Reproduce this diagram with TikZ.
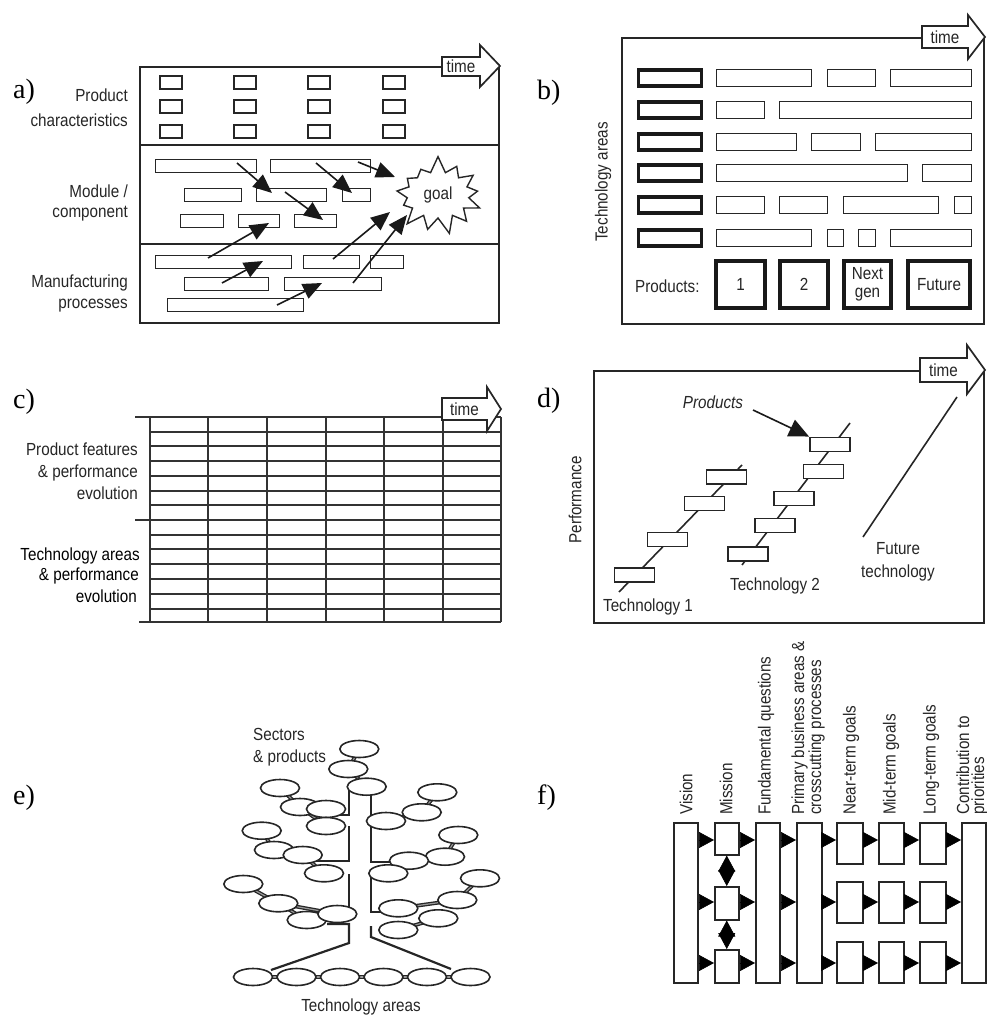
\documentclass[tikz,border=0pt]{standalone}
\usepackage{fontspec}
\setmainfont[FakeStretch=0.87]{Liberation Sans}
\newfontfamily\serifl{Liberation Serif}
\usetikzlibrary{arrows.meta,shapes.symbols,shapes.geometric}
\pgfdeclarelayer{bg}
\pgfsetlayers{bg,main}
\tikzset{
  lbl/.style={font=\fontsize{17.5}{20}\selectfont, text=black!85, inner sep=0pt},
  plab/.style={font=\serifl\fontsize{28}{30}\selectfont, inner sep=0pt, anchor=base west},
  frm/.style={draw=black!85, line width=2pt},
  bar/.style={draw=black!85, line width=1.9pt, fill=white},
  tbar/.style={draw=black!90, line width=3.4pt, fill=white},
  pbox/.style={draw=black!90, line width=3.6pt, fill=white, inner sep=0pt, align=center, font=\fontsize{17.5}{18}\selectfont, text=black!85},
  tarr/.style={draw=black!85, line width=1.7pt, fill=white, line join=miter},
  parr/.style={draw=black!90, line width=1.6pt, -{Triangle[length=19pt,width=16pt]}},
  gridl/.style={draw=black!80, line width=1.5pt},
  dbox/.style={draw=black!85, line width=1.9pt, fill=white, minimum width=40pt, minimum height=14pt, inner sep=0pt},
  ell/.style={ellipse, draw=black!85, line width=1.6pt, fill=white, minimum width=39pt, minimum height=17pt, inner sep=0pt},
  econn/.style={draw=black!85, line width=1.3pt, double=black!40, double distance=1.2pt},
  trunk/.style={draw=black!85, line width=2.2pt},
  fbox/.style={draw=black!85, line width=1.5pt, fill=white, inner sep=0pt, anchor=north west},
  farr/.style={draw=black, line width=0.6pt, -{Triangle[length=15pt,width=16pt]}},
  fdia/.style={draw=black, line width=0.6pt, {Triangle[length=16pt,width=17pt]}-{Triangle[length=16pt,width=17pt]}},
}
\begin{document}
\begin{tikzpicture}[x=1pt,y=-1pt]
\useasboundingbox (0,0) rectangle (986,1016);

% ---------------- panel a ----------------
\node[plab] (pa) at (13,99) {a)};
\draw[frm] (140,67) rectangle (499,323);
\draw[frm] (140,145) -- (499,145);
\draw[frm] (140,244) -- (499,244);
\foreach \x in {160,234,308,383} \foreach \y in {76,100,125} \draw[bar] (\x,\y) rectangle (\x+22,\y+13);
\node[lbl, anchor=base east] (a1) at (128,102) {Product};
\node[lbl, anchor=base east] (a2) at (128,127) {characteristics};
\node[lbl, anchor=base east] (a3) at (128,198) {Module /};
\node[lbl, anchor=base east] (a4) at (128,218) {component};
\node[lbl, anchor=base east] (a5) at (128,287) {Manufacturing};
\node[lbl, anchor=base east] (a6) at (128,308) {processes};
\foreach \xa/\xb/\ya in {155/257/159, 270/371/159, 184/242/188, 256/327/188, 342/371/188,
  180/224/214, 238/280/214, 294/337/214, 155/292/255, 303/360/255, 370/404/255,
  184/269/277, 284/382/277, 167/304/298}
  \draw[bar] (\xa+0.5,\ya+0.5) rectangle (\xb-0.5,\ya+13.5);
\node[starburst, draw=black!85, line width=1.4pt, fill=white, lbl, minimum width=96pt, minimum height=80pt,
  starburst points=13, starburst point height=17pt, random starburst=7] (goal) at (438,195) {goal};
\draw[parr] (237,163) -- (272,193);
\draw[parr] (316,163) -- (352,193);
\draw[parr] (358,162) -- (395,177);
\draw[parr] (285,192) -- (323,220);
\draw[parr] (208,258) -- (269,223);
\draw[parr] (222,283) -- (263,261);
\draw[parr] (277,305) -- (322,283);
\draw[parr] (333,259) -- (390,212);
\draw[parr] (353,283) -- (407,215);
\draw[tarr] (442,57) -- (480,57) -- (480,45) -- (500,66) -- (480,87) -- (480,76) -- (442,76) -- cycle;
\node[lbl] (ta) at (461,66.5) {time};

% ---------------- panel b ----------------
\node[plab] (pb) at (537,100) {b)};
\draw[frm] (622,38) rectangle (984,324);
\foreach \y in {69,101,133,164,196,229} \draw[tbar] (638.5,\y+1) rectangle (701.5,\y+17);
\foreach \xa/\xb/\ya in {716/812/69, 827/876/69, 890/972/69,
  716/765/101, 779/972/101,
  716/797/133, 811/861/133, 875/972/133,
  716/908/164, 922/972/164,
  716/765/196, 779/828/196, 843/939/196, 954/972/196,
  716/812/229, 827/844/229, 858/876/229, 890/972/229}
  \draw[bar] (\xa+0.5,\ya+0.5) rectangle (\xb-0.5,\ya+17.5);
\node[lbl, anchor=west] (bprod) at (635,286) {Products:};
\node[pbox, minimum width=49pt, minimum height=47pt] (bp1) at (740.5,284.5) {1};
\node[pbox, minimum width=48pt, minimum height=47pt] (bp2) at (804,284.5) {2};
\node[pbox, minimum width=47pt, minimum height=47pt] (bp3) at (867.5,284.5) {Next\\gen};
\node[pbox, minimum width=62pt, minimum height=47pt] (bp4) at (939,284.5) {Future};
\node[lbl, rotate=90] (bta) at (603,182) {Technology areas};
\draw[tarr] (922,26) -- (968,26) -- (968,15) -- (985,37) -- (968,59) -- (968,48) -- (922,48) -- cycle;
\node[lbl] (tb) at (945,37) {time};

% ---------------- panel c ----------------
\node[plab] (pc) at (13,408) {c)};
\foreach \x in {150,208,267,326,384,443,501} \draw[gridl] (\x,417) -- (\x,622);
\foreach \y in {417,432,446,461,476,491,505,520,535,549,564,579,594,609,622} \draw[gridl] (150,\y) -- (501,\y);
\draw[gridl] (135,417) -- (150,417);
\draw[gridl] (135,520) -- (150,520);
\draw[gridl] (139,622) -- (150,622);
\node[lbl, anchor=base east] (c1) at (138,455) {Product features};
\node[lbl, anchor=base east] (c2) at (138,477) {\& performance};
\node[lbl, anchor=base east] (c3) at (138,499) {evolution};
\node[lbl, anchor=base east, text=black] (c4) at (140,560) {Technology areas};
\node[lbl, anchor=base east, text=black] (c5) at (139,580) {\& performance};
\node[lbl, anchor=base east, text=black] (c6) at (137,602) {evolution};
\draw[tarr] (442,398) -- (487,398) -- (487,387) -- (501,409) -- (487,431) -- (487,420) -- (442,420) -- cycle;
\node[lbl] (tc) at (464.5,409) {time};

% ---------------- panel d ----------------
\node[plab] (pd) at (537,407) {d)};
\draw[frm] (594,371) rectangle (984,623);
\draw[draw=black!85, line width=1.6pt] (619,592) -- (742,465);
\draw[draw=black!85, line width=1.6pt] (742,565) -- (850,423);
\draw[draw=black!85, line width=1.6pt] (863,537) -- (957,397);
\node[dbox] (d11) at (634.5,575) {};
\node[dbox] (d12) at (667.5,539.5) {};
\node[dbox] (d13) at (704.5,503.5) {};
\node[dbox] (d14) at (726.5,477) {};
\node[dbox] (d21) at (748,554) {};
\node[dbox] (d22) at (775,525.5) {};
\node[dbox] (d23) at (794,498.5) {};
\node[dbox] (d24) at (823.5,471.5) {};
\node[dbox] (d25) at (830,444.5) {};
\node[lbl, font=\fontsize{17.5}{20}\selectfont\itshape] (dprod) at (713,402) {Products};
\coordinate (dps) at (753,410);
\draw[draw=black!90, line width=1.6pt, -{Triangle[length=20pt,width=18pt]}] (dps) -- (d25.north west);
\node[lbl] (dt1) at (648,607) {Technology 1};
\node[lbl] (dt2) at (775,586) {Technology 2};
\node[lbl] (dfu) at (898,549) {Future};
\node[lbl] (dft) at (898,573) {technology};
\node[lbl, rotate=90] (dperf) at (575,500) {Performance};
\draw[tarr] (920,358) -- (967,358) -- (967,345) -- (985,370) -- (967,394) -- (967,382) -- (920,382) -- cycle;
\node[lbl] (td) at (943.5,370) {time};

% ---------------- panel e ----------------
\node[plab] (pe) at (13,804) {e)};
\foreach \n/\x/\y in {1/359.3/749, 2/348.3/769, 3/366.7/786.7, 4/280/788, 5/300/807, 6/326/809, 7/326/826,
  8/261.7/830.7, 9/274/850, 10/302.7/855, 11/324/873.3, 12/243.3/884, 13/278.3/903.3, 14/306.7/920, 15/337.3/914,
  16/437.3/792.3, 17/421.7/812.3, 18/386/821, 19/458.3/835, 20/445/856.7, 21/409/860.7, 22/388.3/873.3,
  23/480/878.3, 24/457.3/900, 25/398.3/908.3, 26/438.3/918.3, 27/398.3/930}
  \node[ell] (e\n) at (\x,\y) {};
\foreach \n/\x in {1/253, 2/296.5, 3/340, 4/383.5, 5/427, 6/470.5}
  \node[ell] (eb\n) at (\x,977) {};
\begin{pgfonlayer}{bg}
  \foreach \a/\b in {1/2, 2/3, 4/5, 5/7, 6/7, 8/9, 10/11, 12/13, 13/14, 13/15, 16/17, 17/18, 19/20, 20/21, 23/24, 24/25, 26/27}
    \draw[econn] (e\a.center) -- (e\b.center);
  \foreach \a/\b in {1/2, 2/3, 3/4, 4/5, 5/6}
    \draw[econn] (eb\a.center) -- (eb\b.center);
  \draw[trunk] (349,790) -- (349,815) -- (330,815);
  \draw[trunk] (349,826) -- (349,861) -- (305,861);
  \draw[trunk] (349,874) -- (349,910);
  \draw[trunk] (327,924) -- (349,924) -- (349,943) -- (271,970);
  \draw[trunk] (371,793) -- (371,862) -- (400,862);
  \draw[trunk] (371,872) -- (371,912) -- (395,912);
  \draw[trunk] (371,926) -- (371,937) -- (451,969);
\end{pgfonlayer}
\node[lbl, anchor=base west] (es1) at (253,740) {Sectors};
\node[lbl, anchor=base west] (es2) at (253,762) {\& products};
\node[lbl] (eta) at (361,1007) {Technology areas};

% ---------------- panel f ----------------
\node[plab] (pf) at (537,804) {f)};
\node[fbox, minimum width=24pt, minimum height=160pt] (fv) at (673,822) {};
\node[fbox, minimum width=24pt, minimum height=32pt] (fm1) at (714,822) {};
\node[fbox, minimum width=24pt, minimum height=33pt] (fm2) at (714,886) {};
\node[fbox, minimum width=24pt, minimum height=33pt] (fm3) at (714,949) {};
\node[fbox, minimum width=24pt, minimum height=160pt] (fq) at (755,822) {};
\node[fbox, minimum width=25pt, minimum height=160pt] (fp) at (796,822) {};
\foreach \r/\y in {1/822, 2/881, 3/941} {
  \node[fbox, minimum width=26pt, minimum height=41pt] (fn\r) at (836,\y) {};
  \node[fbox, minimum width=25pt, minimum height=41pt] (fd\r) at (878,\y) {};
  \node[fbox, minimum width=26pt, minimum height=41pt] (fl\r) at (919,\y) {};
}
\node[fbox, minimum width=24pt, minimum height=160pt] (fc) at (961,822) {};
\coordinate (r1) at (0,840);
\coordinate (r2) at (0,902);
\coordinate (r3) at (0,963);
\foreach \r in {1,2,3} {
  \draw[farr] (fv.east |- r\r) -- (fm\r.west |- r\r);
  \draw[farr] (fm\r.east |- r\r) -- (fq.west |- r\r);
  \draw[farr] (fq.east |- r\r) -- (fp.west |- r\r);
  \draw[farr] (fp.east |- r\r) -- (fn\r.west |- r\r);
  \draw[farr] (fn\r.east |- r\r) -- (fd\r.west |- r\r);
  \draw[farr] (fd\r.east |- r\r) -- (fl\r.west |- r\r);
  \draw[farr] (fl\r.east |- r\r) -- (fc.west |- r\r);
}
\draw[fdia] (fm1.south) -- (fm2.north);
\draw[fdia] (fm2.south) -- (fm3.north);
\node[lbl, rotate=90, anchor=west] (lv) at (686,815) {Vision};
\node[lbl, rotate=90, anchor=west] (lm) at (726,815) {Mission};
\node[lbl, rotate=90, anchor=west] (lq) at (766,815) {Fundamental questions};
\node[lbl, rotate=90, anchor=west, align=left, font=\fontsize{17.5}{17}\selectfont] (lp) at (808,815) {Primary business areas \&\\crosscutting processes};
\node[lbl, rotate=90, anchor=west] (ln) at (851,815) {Near-term goals};
\node[lbl, rotate=90, anchor=west] (ld) at (891,815) {Mid-term goals};
\node[lbl, rotate=90, anchor=west] (ll) at (931,815) {Long-term goals};
\node[lbl, rotate=90, anchor=west, align=left, font=\fontsize{17.5}{15}\selectfont] (lc) at (972,815) {Contribution to\\priorities};
\end{tikzpicture}
\end{document}
